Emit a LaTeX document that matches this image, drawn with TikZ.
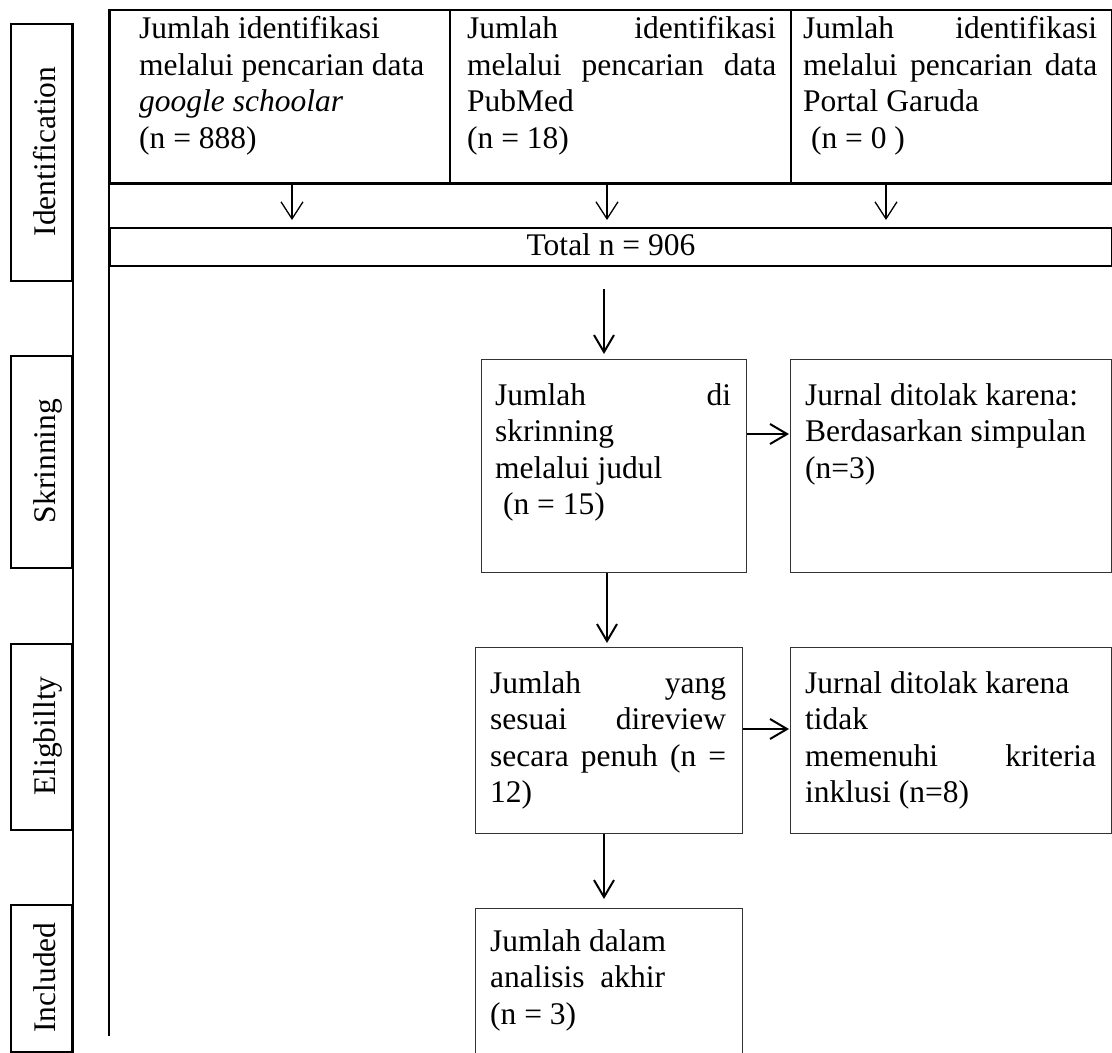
\documentclass[tikz,border=0pt]{standalone}
\usepackage{fontspec}
\setmainfont{Liberation Serif}
\usetikzlibrary{arrows.meta}
\newcommand\myjl[1]{\hbox to\linewidth{#1}}
\newcommand\myll[1]{\hbox{#1}}
\begin{document}
\begin{tikzpicture}[x=1pt,y=-1pt,
  frame/.style={draw=black, line width=2pt},
  topbox/.style={draw=black, line width=2pt, inner sep=0pt, anchor=north west},
  lbox/.style={draw=black, line width=2pt, inner sep=0pt, anchor=north west},
  pbox/.style={draw=black!80, line width=1.4pt, inner sep=0pt, anchor=north west},
  txt/.style={inner sep=0pt, anchor=base west, font={\fontsize{31.5}{36.5}\selectfont}},
  lab/.style={inner sep=0pt, rotate=90, anchor=base, font={\fontsize{31.5}{36.5}\selectfont}},
  arrt/.style={line width=1.3pt, -{Straight Barb[length=17pt,width=22pt]}},
  arrb/.style={line width=2pt, -{Straight Barb[length=17pt,width=20pt]}},
]
\useasboundingbox (0,0) rectangle (1112,1053);
\clip (0,0) rectangle (1112,1053);

% phase label boxes
\node[lbox, minimum width=61.5pt, minimum height=257pt] (idb) at (9.5,23) {};
\node[lbox, minimum width=61.5pt, minimum height=212pt] (skb) at (9.5,355) {};
\node[lbox, minimum width=61.5pt, minimum height=186pt] (elb) at (9.5,643) {};
\node[lbox, minimum width=61.5pt, minimum height=147pt] (inb) at (9.5,904) {};
\draw[frame] (idb.north east) -- (inb.south east);
\node[lab] (idt) at (55,151.5) {Identification};
\node[lab] (skt) at (55,461) {Skrinning};
\node[lab] (elt) at (55,736) {Eligbillty};
\node[lab] (int) at (55,977.5) {Included};

% top row
\node[topbox, minimum width=340pt, minimum height=173pt] (s1) at (109,9) {};
\node[topbox, minimum width=341pt, minimum height=173pt] (s2) at (449,9) {};
\node[topbox, minimum width=321pt, minimum height=173pt] (s3) at (790,9) {};
\node[txt] (s1t) at (139,38.5) {\parbox[t]{300pt}{%
  \myll{Jumlah identifikasi}
  \myll{melalui pencarian data}
  \myll{\textit{google schoolar}}
  \myll{(n = 888)}}};
\node[txt] (s2t) at (467,38.5) {\parbox[t]{309pt}{%
  \myjl{Jumlah\hfill identifikasi}
  \myjl{melalui\hfill pencarian\hfill data}
  \myll{PubMed}
  \myll{(n = 18)}}};
\node[txt] (s3t) at (803,38.5) {\parbox[t]{294pt}{%
  \myjl{Jumlah\hfill identifikasi}
  \myjl{melalui\hfill pencarian\hfill data}
  \myll{Portal Garuda}
  \myll{\ (n = 0 )}}};

% total row
\node[topbox, minimum width=1002pt, minimum height=38pt] (tot) at (109,227) {};
\node[txt, anchor=base] (tott) at (611,255) {Total n = 906};
\coordinate (lend) at (109,1036);
\draw[frame] (s1.north west) -- (lend);
\draw[frame] (s1.south west) -- (s3.south east);

\draw[arrt, shorten >=7pt] (s1.south -| 292,0) -- (tot.north -| 292,0);
\draw[arrt, shorten >=7pt] (s2.south -| 607,0) -- (tot.north -| 607,0);
\draw[arrt, shorten >=7pt] (s3.south -| 886,0) -- (tot.north -| 886,0);

% screening
\node[pbox, minimum width=265pt, minimum height=213pt] (scr) at (481,359) {};
\node[pbox, minimum width=321pt, minimum height=213pt] (rj1) at (790,359) {};
\node[txt] (scrt) at (495,405) {\parbox[t]{236pt}{%
  \myjl{Jumlah\hfill di}
  \myll{skrinning}
  \myll{melalui judul}
  \myll{\ (n = 15)}}};
\node[txt] (rj1t) at (805,405) {\parbox[t]{300pt}{%
  \myll{Jurnal ditolak karena:}
  \myll{Berdasarkan simpulan}
  \myll{(n=3)}}};

% eligibility
\node[pbox, minimum width=267pt, minimum height=186pt] (elg) at (475,647) {};
\node[pbox, minimum width=321pt, minimum height=186pt] (rj2) at (790,647) {};
\node[txt] (elgt) at (490,693) {\parbox[t]{236pt}{%
  \myjl{Jumlah\hfill yang}
  \myjl{sesuai\hfill direview}
  \myjl{secara\hfill penuh\hfill (n\hfill =}
  \myll{12)}}};
\node[txt] (rj2t) at (805,693) {\parbox[t]{291pt}{%
  \myll{Jurnal ditolak karena}
  \myll{tidak}
  \myjl{memenuhi\hfill kriteria}
  \myll{inklusi (n=8)}}};

% included
\node[pbox, minimum width=267pt, minimum height=170pt] (inc) at (475,908) {};
\node[txt] (inct) at (490,951) {\parbox[t]{236pt}{%
  \myll{Jumlah dalam}
  \myll{analisis\ \ akhir}
  \myll{(n = 3)}}};

% arrows
\draw[arrb, shorten <=22pt, shorten >=5pt] (tot.south -| 604,0) -- (scr.north -| 604,0);
\draw[arrb, shorten >=1pt] (scr.east |- 0,434) -- (rj1.west |- 0,434);
\draw[arrb, shorten >=4pt] (scr.south -| 607,0) -- (elg.north -| 607,0);
\draw[arrb, shorten >=1pt] (elg.east |- 0,729) -- (rj2.west |- 0,729);
\draw[arrb, shorten >=9pt] (elg.south -| 604,0) -- (inc.north -| 604,0);
\end{tikzpicture}
\end{document}
